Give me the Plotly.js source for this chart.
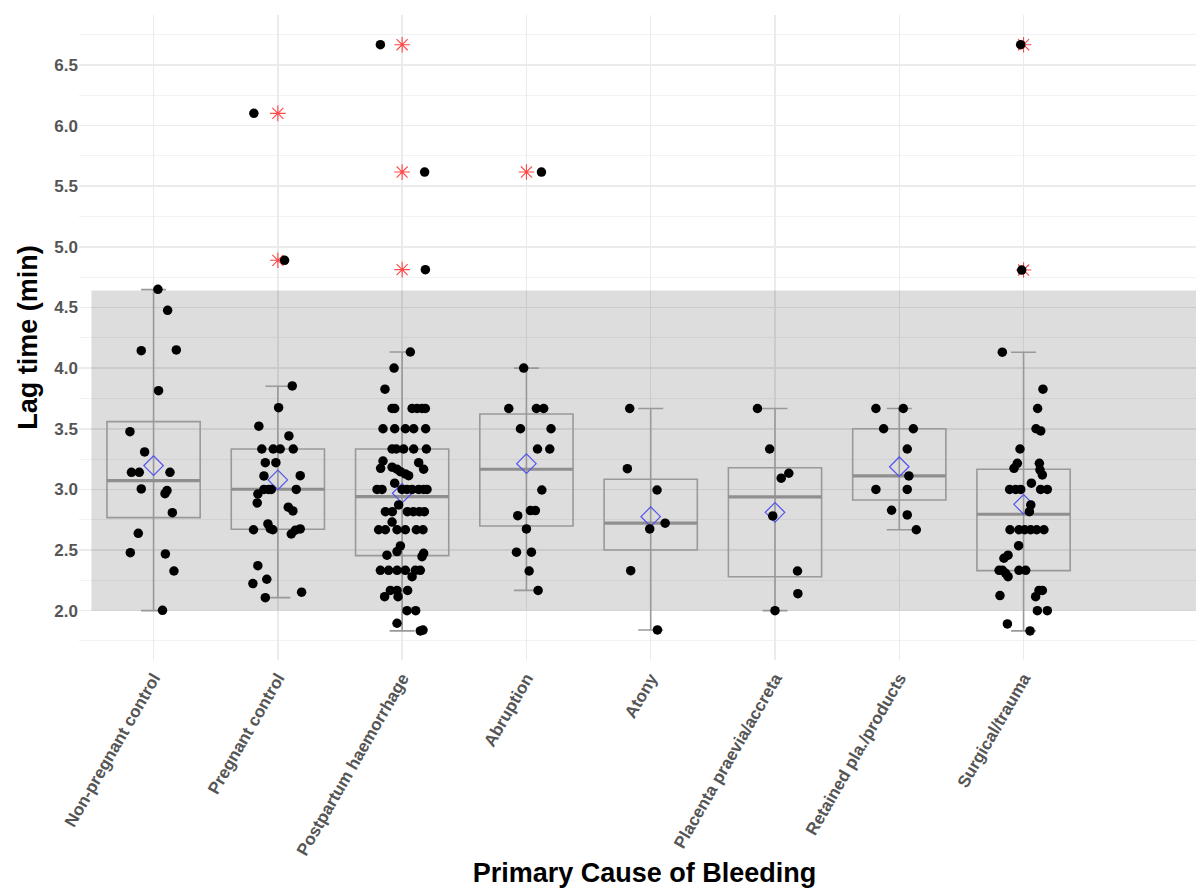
<!DOCTYPE html>
<html>
<head>
<meta charset="utf-8">
<script src="https://cdn.plot.ly/plotly-3.0.1.min.js"></script>
<style>
  html, body { margin: 0; padding: 0; background: #ffffff; overflow: hidden; }
  #chart { width: 1210px; height: 888px; }
</style>
</head>
<body>
<div id="chart"></div>
<script>
// Lag time by primary cause of bleeding: box summaries, group means and jittered observations.

const categories = [
  'Non-pregnant control', 'Pregnant control', 'Postpartum haemorrhage', 'Abruption',
  'Atony', 'Placenta praevia/accreta', 'Retained pla./products', 'Surgical/trauma'
];

// Box summaries (minutes)
const boxQ1       = [2.767, 2.671, 2.454, 2.698, 2.500, 2.280, 2.913, 2.330];
const boxMedian   = [3.072, 3.001, 2.940, 3.166, 2.721, 2.938, 3.111, 2.795];
const boxQ3       = [3.559, 3.333, 3.333, 3.622, 3.083, 3.179, 3.500, 3.166];
const whiskerLow  = [2.000, 2.107, 1.833, 2.167, 1.841, 2.000, 2.667, 1.833];
const whiskerHigh = [4.647, 3.850, 4.133, 4.000, 3.667, 3.667, 3.667, 4.131];
const groupMeans  = [3.196, 3.078, 2.968, 3.212, 2.775, 2.811, 3.187, 2.877];

// Outlying observations flagged by the box rule (group number, value)
const outlierGroup = [2, 2, 3, 3, 3, 4, 8, 8];
const outlierValue = [6.101, 4.889, 6.667, 5.617, 4.812, 5.617, 6.667, 4.809];

// Reference range band (minutes)
const refLow = 2.0;
const refHigh = 4.64;

// Individual lag times and their horizontal jitter (category units)
const lagNonPregnant = [4.650, 4.477, 4.144, 4.150, 3.814, 3.476, 3.309, 3.141, 3.141, 3.141,
  3.004, 2.990, 2.965, 2.808, 2.638, 2.478, 2.468, 2.327, 2.003];
const jitNonPregnant = [0.035, 0.113, -0.099, 0.183, 0.040, -0.190, -0.072, -0.178, -0.115, 0.132,
  -0.099, 0.108, 0.092, 0.151, -0.123, -0.187, 0.095, 0.164, 0.072];

const lagPregnant = [6.101, 4.889, 3.853, 3.674, 3.521, 3.441, 3.333, 3.333, 3.333, 3.333,
  3.220, 3.220, 3.111, 3.113, 3.000, 3.000, 3.000, 3.000, 2.962, 2.888,
  2.853, 2.822, 2.667, 2.715, 2.676, 2.667, 2.632, 2.663, 2.674, 2.371,
  2.259, 2.223, 2.107, 2.152];
const jitPregnant = [-0.193, 0.054, 0.116, 0.006, -0.153, 0.089, -0.129, -0.037, 0.019, 0.124,
  -0.101, -0.016, -0.112, 0.180, -0.112, -0.075, -0.053, 0.148, -0.161, -0.166,
  0.084, 0.121, -0.196, -0.080, -0.061, -0.040, 0.108, 0.140, 0.180, -0.161,
  -0.089, -0.201, -0.101, 0.191];

const lagPostpartum = [6.667, 5.617, 4.812, 4.133, 4.000, 3.826,
  3.667, 3.667, 3.667, 3.667, 3.667, 3.667,
  3.500, 3.500, 3.500, 3.500, 3.500,
  3.333, 3.333, 3.333, 3.333, 3.333,
  3.234, 3.174, 3.183, 3.166, 3.146, 3.127, 3.113, 3.220, 3.166, 3.051,
  3.000, 3.000, 3.000, 3.000, 3.000, 3.000, 3.000, 3.000,
  2.872, 2.816, 2.816, 2.816, 2.816, 2.816, 2.816,
  2.667, 2.667, 2.667, 2.667, 2.667, 2.667, 2.730,
  2.534, 2.487, 2.457, 2.473, 2.445,
  2.333, 2.333, 2.333, 2.333, 2.333, 2.333, 2.280,
  2.167, 2.167, 2.167, 2.115, 2.115, 2.000, 2.000, 1.896, 1.833, 1.840];
const jitPostpartum = [-0.175, 0.181, 0.187, 0.066, -0.065, -0.138,
  -0.081, -0.060, 0.080, 0.120, 0.160, 0.187,
  -0.154, -0.060, 0.026, 0.093, 0.189,
  -0.081, -0.047, 0.012, 0.093, 0.195,
  -0.154, -0.173, -0.081, -0.041, -0.014, 0.026, 0.052, 0.133, 0.173, -0.060,
  -0.202, -0.162, -0.001, 0.039, 0.080, 0.133, 0.173, 0.200,
  -0.028, -0.135, -0.079, 0.042, 0.090, 0.138, 0.179,
  -0.189, -0.135, -0.041, 0.026, 0.114, 0.168, -0.081,
  -0.014, -0.041, -0.122, 0.173, 0.160,
  -0.175, -0.109, -0.041, 0.026, 0.106, 0.146, 0.080,
  -0.095, -0.041, 0.044, -0.141, -0.033, 0.039, 0.109, -0.041, 0.146, 0.168];

const lagAbruption = [5.617, 4.000, 3.667, 3.667, 3.667, 3.500, 3.500, 3.333, 3.333, 2.995,
  2.783, 2.825, 2.825, 2.674, 2.482, 2.482, 2.327, 2.167];
const jitAbruption = [0.121, -0.022, -0.142, 0.080, 0.139, -0.048, 0.198, 0.089, 0.188, 0.124,
  -0.070, 0.032, 0.072, 0.000, -0.080, 0.040, 0.022, 0.094];

const lagAtony = [3.667, 3.171, 2.995, 2.721, 2.674, 2.330, 1.841];
const jitAtony = [-0.169, -0.188, 0.051, 0.116, -0.008, -0.161, 0.054];

const lagPlacenta = [3.667, 3.333, 3.092, 3.133, 2.781, 2.327, 2.140, 2.000];
const jitPlacenta = [-0.141, -0.043, 0.050, 0.111, -0.018, 0.181, 0.184, 0.000];

const lagRetained = [3.667, 3.667, 3.500, 3.500, 3.333, 3.111, 3.000, 3.000, 2.828, 2.789, 2.667];
const jitRetained = [-0.188, 0.032, -0.126, 0.113, 0.064, 0.077, -0.188, 0.064, -0.062, 0.064, 0.137];

const lagSurgical = [6.667, 4.809, 4.131, 3.826, 3.667, 3.500, 3.482, 3.333, 3.174, 3.215,
  3.215, 3.160, 3.119, 3.051, 3.000, 3.000, 3.000, 3.000, 3.000, 2.872,
  2.816, 2.667, 2.667, 2.667, 2.667, 2.667, 2.667, 2.536, 2.432, 2.457,
  2.333, 2.333, 2.333, 2.333, 2.308, 2.280, 2.167, 2.115, 2.167, 2.124,
  2.000, 2.000, 1.890, 1.833];
const jitSurgical = [-0.023, -0.015, -0.171, 0.156, 0.113, 0.100, 0.138, -0.029, -0.077, -0.050,
  0.127, 0.132, 0.151, 0.063, -0.112, -0.063, -0.023, 0.137, 0.191, 0.058,
  0.047, -0.109, -0.037, 0.009, 0.057, 0.105, 0.164, -0.040, -0.158, -0.125,
  -0.197, -0.170, -0.037, 0.017, -0.144, -0.125, 0.124, 0.097, 0.151, -0.190,
  0.111, 0.191, -0.130, 0.052];

const groupLags = [lagNonPregnant, lagPregnant, lagPostpartum, lagAbruption,
  lagAtony, lagPlacenta, lagRetained, lagSurgical];
const groupJitter = [jitNonPregnant, jitPregnant, jitPostpartum, jitAbruption,
  jitAtony, jitPlacenta, jitRetained, jitSurgical];

// ---- styling ----
const FONT = 'Liberation Sans, Arial, Helvetica, sans-serif';
const BOX_COLOR = '#999999';
const BOX_WIDTH = 0.75;
const positions = categories.map((_, i) => i + 1);

// whiskers with end caps, drawn as error bars around the median
const whiskers = {
  type: 'scatter', mode: 'markers',
  x: positions, y: boxMedian,
  marker: { size: 1, color: 'rgba(0,0,0,0)' },
  error_y: {
    type: 'data', symmetric: false,
    array: whiskerHigh.map((h, i) => h - boxMedian[i]),
    arrayminus: whiskerLow.map((l, i) => boxMedian[i] - l),
    color: BOX_COLOR, thickness: 1.6, width: 12.5
  },
  hoverinfo: 'skip', showlegend: false
};

// hinge boxes
const boxes = {
  type: 'box', x: positions,
  q1: boxQ1, median: boxMedian, q3: boxQ3,
  lowerfence: boxQ1, upperfence: boxQ3,
  width: BOX_WIDTH, whiskerwidth: 0,
  boxpoints: false,
  line: { color: BOX_COLOR, width: 1.6 },
  fillcolor: 'rgba(0,0,0,0)',
  hoverinfo: 'skip', showlegend: false
};

// thicker median bars
const medX = [], medY = [];
boxMedian.forEach((m, i) => {
  medX.push(positions[i] - BOX_WIDTH / 2, positions[i] + BOX_WIDTH / 2, null);
  medY.push(m, m, null);
});
const medians = {
  type: 'scatter', mode: 'lines', x: medX, y: medY,
  line: { color: '#8f8f8f', width: 3.2 },
  hoverinfo: 'skip', showlegend: false
};

// flagged outliers
const outliers = {
  type: 'scatter', mode: 'markers',
  x: outlierGroup, y: outlierValue,
  marker: { symbol: 'asterisk-open', size: 13, color: 'rgba(255,40,40,0.85)',
            line: { color: 'rgba(255,40,40,0.85)', width: 1.1 } },
  hoverinfo: 'skip', showlegend: false
};

// group means
const means = {
  type: 'scatter', mode: 'markers',
  x: positions, y: groupMeans,
  marker: { symbol: 'diamond-open', size: 15, color: '#5252ee',
            line: { color: '#5252ee', width: 1.2 } },
  hoverinfo: 'skip', showlegend: false
};

// jittered observations
const ptX = [], ptY = [];
groupLags.forEach((vals, g) => {
  vals.forEach((v, k) => {
    ptX.push(positions[g] + groupJitter[g][k]);
    ptY.push(v);
  });
});
const points = {
  type: 'scatter', mode: 'markers', x: ptX, y: ptY,
  marker: { size: 9.5, color: '#000000' },
  hoverinfo: 'skip', showlegend: false
};

const gridColor = '#ebebeb';

const layout = {
  width: 1210, height: 888,
  margin: { l: 79, r: 0, t: 15, b: 228 },
  paper_bgcolor: '#ffffff', plot_bgcolor: '#ffffff',
  showlegend: false, hovermode: false,
  font: { family: FONT },
  xaxis: {
    range: [0.4, 9.5],
    tickmode: 'array', tickvals: positions, ticktext: categories,
    tickangle: -60,
    ticklabelstandoff: 4,
    tickfont: { family: FONT, size: 17, color: '#555555', weight: 'bold' },
    showgrid: true, gridcolor: gridColor, gridwidth: 1.5,
    zeroline: false, showline: false, ticks: '',
    title: { text: 'Primary Cause of Bleeding', standoff: 14,
             font: { family: FONT, size: 27, color: '#000000', weight: 'bold' } }
  },
  yaxis: {
    range: [1.593, 6.912],
    tick0: 0, dtick: 0.5, tickformat: '.1f',
    tickfont: { family: FONT, size: 17, color: '#555555', weight: 'bold' },
    showgrid: true, gridcolor: gridColor, gridwidth: 1.5,
    minor: { tick0: 0.25, dtick: 0.5, showgrid: true, gridcolor: '#f2f2f2', gridwidth: 1 },
    zeroline: false, showline: false, ticks: '',
    title: { text: 'Lag time (min)', standoff: 8,
             font: { family: FONT, size: 27, color: '#000000', weight: 'bold' } }
  },
  shapes: [{
    type: 'rect', xref: 'x', yref: 'y', layer: 'between',
    x0: 0.5, x1: 9.5, y0: refLow, y1: refHigh,
    fillcolor: 'rgba(0,0,0,0.135)', line: { width: 0 }
  }]
};

Plotly.newPlot('chart', [whiskers, boxes, medians, outliers, means, points], layout,
  { displayModeBar: false, staticPlot: true });
</script>
</body>
</html>
